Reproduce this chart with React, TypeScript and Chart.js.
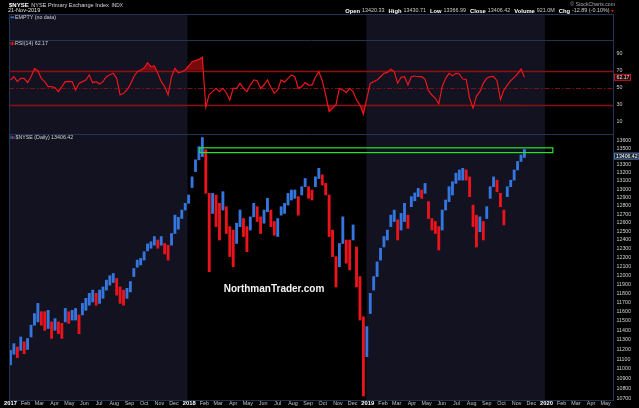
import React, { useEffect, useRef } from "react";
import { Chart, registerables } from "chart.js";

Chart.register(...registerables);

// ---------- data ----------
const axisStart = "2017-01-01";
const axisEnd = "2020-05-21";
const firstWeek = "2017-01-04"; // weekly bars (mid-week dates)

const priceHigh = [
  11190, 11260, 11225, 11330, 11280, 11315, 11455, 11580, 11690, 11600,
  11600, 11615, 11490, 11525, 11490, 11475, 11635, 11600, 11615, 11635,
  11565, 11690, 11745, 11800, 11835, 11800, 11835, 11870, 11945, 11995,
  12020, 11965, 11870, 11835, 11855, 11930, 12075, 12170, 12190, 12265,
  12355, 12380, 12440, 12400, 12440, 12360, 12340, 12475, 12690, 12665,
  12750, 12830, 12930, 13150, 13360, 13525, 13640, 13485, 12950, 12950,
  12930, 12830, 12970, 12790, 12555, 12515, 12595, 12750, 12650, 12555,
  12670, 12830, 12790, 12670, 12750, 12890, 12750, 12615, 12650, 12790,
  12830, 12950, 12990, 12990, 12910, 13030, 13130, 13030, 12990, 13150,
  13255, 13175, 13070, 12930, 12515, 12210, 12360, 12670, 12400, 12400,
  12575, 12320, 11985, 11545, 11440, 11800, 11985, 12150, 12305, 12440,
  12515, 12690, 12750, 12635, 12710, 12830, 12690, 12910, 12955, 13010,
  12990, 13070, 12850, 12650, 12615, 12555, 12750, 12870, 13030, 13090,
  13195, 13235, 13255, 13235, 13150, 12810, 12690, 12670, 12615, 12790,
  13030, 13150, 13110, 12950, 12750, 13030, 13110, 13235, 13340, 13420,
  13490,
];

const priceLow = [
  11040, 11150, 11115, 11190, 11155, 11200, 11330, 11455, 11490, 11455,
  11400, 11420, 11315, 11400, 11365, 11315, 11490, 11475, 11510, 11510,
  11365, 11565, 11615, 11670, 11705, 11670, 11690, 11745, 11835, 11890,
  11920, 11780, 11690, 11670, 11745, 11815, 11985, 12090, 12115, 12170,
  12275, 12305, 12340, 12305, 12340, 12240, 12170, 12340, 12475, 12525,
  12650, 12750, 12830, 13020, 13215, 13360, 13400, 12950, 12040, 12710,
  12555, 12400, 12750, 12475, 12210, 12095, 12360, 12555, 12440, 12265,
  12515, 12670, 12615, 12475, 12595, 12730, 12555, 12455, 12440, 12690,
  12710, 12810, 12870, 12890, 12690, 12930, 13030, 12890, 12870, 13030,
  13130, 13050, 12930, 12440, 12210, 11870, 12095, 12360, 12135, 12060,
  12400, 11870, 11510, 10725, 11125, 11580, 11835, 11985, 12170, 12320,
  12400, 12555, 12615, 12400, 12515, 12615, 12535, 12790, 12860, 12910,
  12890, 12950, 12650, 12515, 12475, 12285, 12515, 12750, 12850, 12930,
  13070, 13110, 13110, 13110, 12910, 12555, 12320, 12495, 12400, 12650,
  12890, 13030, 12970, 12790, 12575, 12910, 13030, 13110, 13235, 13340,
  13390,
];

const rsi14 = [
  59, 62.9, 57.1, 61, 61, 55.9, 62.9, 72.4, 70, 61,
  57.1, 51.2, 51.2, 50, 45.3, 51.2, 57.1, 57.5, 57.1, 47.3,
  55.1, 57.1, 59, 64.9, 55.9, 57.1, 54.3, 57.1, 62.9, 65.3,
  66.9, 61, 41.4, 43.3, 47.3, 53.9, 62.9, 68.8, 70.8, 73.1,
  79.4, 74.7, 75.5, 66.9, 57.1, 51.2, 41.4, 62.9, 72.7, 67.6,
  68.8, 70.8, 75.5, 80.6, 81.8, 83.3, 85.7, 27, 42, 45.3,
  49.2, 45.3, 49.2, 44.1, 35.5, 49.2, 49.2, 55.1, 49.2, 45.3,
  53.1, 59, 58.2, 49.2, 53.1, 59, 50.4, 43.3, 47.3, 59,
  56.3, 61, 64.9, 62.9, 49.2, 51.2, 55.9, 53.1, 53.1, 62.2,
  68.8, 58.2, 41.4, 22, 25.7, 30, 49.2, 47.3, 44.1, 49.2,
  45.3, 35.5, 29.6, 19, 37.5, 55.1, 57.1, 59, 62.9, 66.9,
  68, 71.6, 68.8, 55.1, 62.2, 62.9, 53.1, 62.9, 63.7, 62.9,
  62.9, 59.8, 46.5, 41.4, 37.5, 31, 51.2, 61, 66.9, 64.1,
  66.9, 66.1, 60.2, 59.8, 37.5, 26, 40.2, 45.3, 55.1, 61,
  62.9, 62.9, 58.2, 36, 47, 53.1, 58.2, 62.2, 66.1, 72,
  62.17,
];

const rsiTicks = [10, 30, 50, 70, 90];
const rsiBands = [30, 70];
const rsiMid = 50;
const priceTicks = [
  10700, 10800, 10900, 11000, 11100, 11200, 11300, 11400, 11500, 11600,
  11700, 11800, 11900, 12000, 12100, 12200, 12300, 12400, 12500, 12600,
  12700, 12800, 12900, 13000, 13100, 13200, 13300, 13400, 13500, 13600,
];
const monthLabels = ["Jan", "Feb", "Mar", "Apr", "May", "Jun", "Jul", "Aug", "Sep", "Oct", "Nov", "Dec"];
const tickYears = [2017, 2018, 2019, 2020];
const shadedYears = [2017, 2019];
const resistance = { from: "2018-01-26", to: "2020-01-17", low: 13450, high: 13510 };
const lastClose = 13406.42;
const lastRsi = 62.17;

const symbol = "$NYSE";
const title = "NYSE Primary Exchange Index";
const exchange = "INDX";
const asOf = "21-Nov-2019";
const copyright = "\u00a9 StockCharts.com";
const quoteLabels = ["Open", "High", "Low", "Close", "Volume", "Chg"];
const quoteValues = ["13420.33", "13430.71", "13366.99", "13406.42", "921.0M", "-12.89 (-0.10%)"];
const watermark = "NorthmanTrader.com";

// ---------- helpers ----------
const FONT = '"Liberation Sans", Arial, sans-serif';
const BLUE = "rgb(52,118,222)";
const RED = "rgb(235,20,28)";
const SHADE = "rgb(18,18,33)";
const BORDER = "rgb(30,54,84)";
const DAY = 86400000;
const origin = Date.parse(axisStart);
const dayOf = (iso: string) => (Date.parse(iso) - origin) / DAY;
const dayOfYMD = (y: number, m: number, d: number) => (Date.UTC(y, m, d) - origin) / DAY;

const weekDays = priceHigh.map((_, i) => dayOf(firstWeek) + 7 * i);

const monthTicks: { value: number; label: string; year: boolean }[] = [];
for (const y of tickYears) {
  for (let m = 0; m < 12; m++) {
    const d = dayOfYMD(y, m, 1);
    if (d <= dayOf(axisEnd)) monthTicks.push({ value: d, label: m === 0 ? String(y) : monthLabels[m], year: m === 0 });
  }
}

const barColors = priceHigh.map((h, i) => {
  if (i === 0) return BLUE;
  const mid = (h + priceLow[i]) / 2;
  const prev = (priceHigh[i - 1] + priceLow[i - 1]) / 2;
  return mid >= prev ? BLUE : RED;
});

function hline(ctx: CanvasRenderingContext2D, x0: number, x1: number, y: number) {
  ctx.beginPath();
  ctx.moveTo(x0, y);
  ctx.lineTo(x1, y);
  ctx.stroke();
}

const decor = {
  id: "decor",
  beforeDraw(chart: any) {
    const { ctx, chartArea: a, scales } = chart;
    ctx.save();
    ctx.fillStyle = "#000";
    ctx.fillRect(0, 0, chart.width, chart.height);
    ctx.fillStyle = SHADE;
    for (const y of shadedYears) {
      const x0 = Math.max(a.left, scales.x.getPixelForValue(dayOfYMD(y, 0, 1)));
      const x1 = Math.min(a.right, scales.x.getPixelForValue(dayOfYMD(y + 1, 0, 1)));
      ctx.fillRect(x0, a.top, x1 - x0, a.bottom - a.top);
    }
    const yr = scales.yRsi;
    ctx.strokeStyle = "rgb(135,18,20)";
    ctx.lineWidth = 1.6;
    for (const v of rsiBands) hline(ctx, a.left, a.right, Math.round(yr.getPixelForValue(v)) + 0.5);
    ctx.strokeStyle = "rgb(120,18,20)";
    ctx.lineWidth = 1;
    ctx.setLineDash([5, 2, 1.5, 2]);
    hline(ctx, a.left, a.right, Math.round(yr.getPixelForValue(rsiMid)) + 0.5);
    ctx.restore();
  },
  afterDatasetsDraw(chart: any) {
    const { ctx, scales } = chart;
    const x = scales.x, yp = scales.yPrice;
    ctx.save();
    // resistance box
    const bx0 = x.getPixelForValue(dayOf(resistance.from));
    const bx1 = x.getPixelForValue(dayOf(resistance.to));
    const by0 = yp.getPixelForValue(resistance.high);
    const by1 = yp.getPixelForValue(resistance.low);
    ctx.strokeStyle = "rgb(40,230,40)";
    ctx.lineWidth = 1.2;
    ctx.strokeRect(bx0, by0, bx1 - bx0, by1 - by0);
    // watermark
    ctx.fillStyle = "#f4f4f4";
    ctx.font = `bold 10px ${FONT}`;
    ctx.textAlign = "center";
    ctx.textBaseline = "middle";
    ctx.fillText(watermark, 274, 289);
    ctx.restore();
  },
  afterDraw(chart: any) {
    const { ctx, chartArea: a, scales } = chart;
    const yr = scales.yRsi, yp = scales.yPrice, x = scales.x;
    ctx.save();
    // panel borders
    ctx.strokeStyle = BORDER;
    ctx.lineWidth = 1;
    ctx.strokeRect(a.left + 0.5, a.top + 0.5, a.right - a.left - 1, a.bottom - a.top);
    hline(ctx, a.left, a.right, Math.round(yr.top) + 0.5);
    hline(ctx, a.left, a.right, Math.round(yp.top) + 0.5);

    // x axis month / year labels (positions from the x scale)
    ctx.textBaseline = "middle";
    ctx.textAlign = "center";
    for (const t of monthTicks) {
      const px = x.getPixelForValue(t.value) + 1.5;
      ctx.font = t.year ? `bold 5.8px ${FONT}` : `5.4px ${FONT}`;
      ctx.fillStyle = t.year ? "#ffffff" : "#c4c4c4";
      ctx.fillText(t.label, px, a.bottom + 3.8);
    }

    // header
    ctx.textAlign = "left";
    ctx.fillStyle = "#fff";
    ctx.font = `bold 6px ${FONT}`;
    ctx.fillText(symbol, 9, 5.5);
    let cx = 9 + ctx.measureText(symbol).width + 2.5;
    ctx.font = `5.6px ${FONT}`;
    ctx.fillStyle = "#d8d8d8";
    ctx.fillText(title, cx, 5.5);
    cx += ctx.measureText(title).width + 2.5;
    ctx.font = `4.8px ${FONT}`;
    ctx.fillText(exchange, cx, 5.8);
    ctx.font = `5.6px ${FONT}`;
    ctx.fillStyle = "#e0e0e0";
    ctx.fillText(asOf, 8, 10.6);

    ctx.textAlign = "right";
    ctx.fillStyle = "#a8a8a8";
    ctx.font = `5.2px ${FONT}`;
    ctx.fillText(copyright, 615, 5);

    // quote line, right aligned
    const parts: { t: string; bold: boolean; gap: number }[] = [];
    quoteLabels.forEach((l, i) => {
      parts.push({ t: l, bold: true, gap: 2 });
      parts.push({ t: quoteValues[i], bold: false, gap: 4 });
    });
    let total = 0;
    for (const p of parts) {
      ctx.font = p.bold ? `bold 5.8px ${FONT}` : `5.4px ${FONT}`;
      total += ctx.measureText(p.t).width + p.gap;
    }
    total -= 4;
    ctx.textAlign = "left";
    let qx = 609.5 - total;
    for (const p of parts) {
      ctx.font = p.bold ? `bold 5.8px ${FONT}` : `5.4px ${FONT}`;
      ctx.fillStyle = p.bold ? "#ffffff" : "#cfcfcf";
      ctx.fillText(p.t, qx, 11);
      qx += ctx.measureText(p.t).width + p.gap;
    }
    ctx.fillStyle = "rgb(230,20,30)";
    ctx.beginPath();
    ctx.moveTo(611, 10);
    ctx.lineTo(614, 10);
    ctx.lineTo(612.5, 12.2);
    ctx.closePath();
    ctx.fill();

    // panel legends
    ctx.font = `5.3px ${FONT}`;
    ctx.fillStyle = BLUE;
    ctx.fillRect(10.5, a.top + 2.5, 3.5, 1.6);
    ctx.fillStyle = "#d0d0d0";
    ctx.fillText("EMPTY (no data)", 15, a.top + 3.4);

    ctx.fillStyle = RED;
    ctx.fillRect(10.5, yr.top + 2, 1, 3);
    ctx.fillRect(12, yr.top + 1.5, 1, 3.5);
    ctx.fillRect(13.5, yr.top + 2.5, 1, 2.5);
    ctx.fillStyle = "#d0d0d0";
    ctx.fillText(`RSI(14) ${lastRsi.toFixed(2)}`, 15, yr.top + 3.5);

    ctx.fillStyle = BLUE;
    ctx.fillRect(10.5, yp.top + 1.5, 1, 3.5);
    ctx.fillStyle = RED;
    ctx.fillRect(12, yp.top + 2, 1, 3);
    ctx.fillStyle = BLUE;
    ctx.fillRect(13.5, yp.top + 2.5, 1, 2.5);
    ctx.fillStyle = "#d0d0d0";
    ctx.fillText(`${symbol} (Daily) ${lastClose.toFixed(2)}`, 15.5, yp.top + 3.6);

    // last value boxes on the right axis
    ctx.font = `5.2px ${FONT}`;
    const ry = yr.getPixelForValue(lastRsi);
    ctx.fillStyle = "rgb(40,6,8)";
    ctx.fillRect(a.right, ry - 3, 16.5, 6);
    ctx.strokeStyle = "rgb(200,25,30)";
    ctx.strokeRect(a.right + 0.5, ry - 3, 16, 6);
    ctx.fillStyle = "#e8e8e8";
    ctx.fillText(lastRsi.toFixed(2), a.right + 2.5, ry + 0.3);

    const py = yp.getPixelForValue(lastClose);
    ctx.fillStyle = "rgb(28,36,52)";
    ctx.fillRect(a.right, py - 3, 25, 6);
    ctx.strokeStyle = "rgb(90,125,170)";
    ctx.strokeRect(a.right + 0.5, py - 3, 24.5, 6);
    ctx.fillStyle = "#ffffff";
    ctx.fillText(lastClose.toFixed(2), a.right + 2, py + 0.3);
    ctx.restore();
  },
};

export default function App() {
  const ref = useRef<HTMLCanvasElement>(null);
  useEffect(() => {
    if (!ref.current) return;
    const tickFont = { size: 5.3, family: FONT };
    const noGrid = { display: false, drawTicks: false, tickLength: 0 };
    const chart = new Chart(ref.current, {
      type: "bar",
      data: {
        datasets: [
          {
            type: "line",
            label: "RSI(14)",
            xAxisID: "x",
            yAxisID: "yRsi",
            data: weekDays.map((d, i) => ({ x: d, y: rsi14[i] })),
            borderColor: "rgb(236,22,28)",
            borderWidth: 1.2,
            pointRadius: 0,
            tension: 0,
            fill: { target: { value: 70 }, above: "rgba(150,12,16,0.8)", below: "rgba(0,0,0,0)" },
          } as any,
          {
            type: "line",
            label: "RSI low fill",
            xAxisID: "x",
            yAxisID: "yRsi",
            data: weekDays.map((d, i) => ({ x: d, y: rsi14[i] })),
            borderWidth: 0,
            borderColor: "rgba(0,0,0,0)",
            pointRadius: 0,
            tension: 0,
            fill: { target: { value: 30 }, above: "rgba(0,0,0,0)", below: "rgba(150,12,16,0.8)" },
          } as any,
          {
            type: "bar",
            label: "$NYSE",
            xAxisID: "x",
            yAxisID: "yPrice",
            data: weekDays.map((d, i) => ({ x: d, y: [priceLow[i], priceHigh[i]] })),
            backgroundColor: barColors,
            borderWidth: 0,
            barThickness: 2.2,
            grouped: false,
          } as any,
        ],
      },
      options: {
        animation: false,
        responsive: false,
        maintainAspectRatio: false,
        layout: { padding: { top: 14, left: 9, right: 0, bottom: 0 } },
        plugins: { legend: { display: false }, tooltip: { enabled: false } },
        scales: {
          x: {
            type: "linear",
            position: "bottom",
            min: 0,
            max: dayOf(axisEnd),
            offset: false,
            grid: noGrid,
            border: { display: false },
            ticks: { display: false },
            afterFit: (s: any) => {
              s.height = 8;
            },
          },
          yEmpty: {
            type: "linear",
            position: "right",
            stack: "panes",
            stackWeight: 26,
            min: 0,
            max: 1,
            grid: noGrid,
            border: { display: false },
            ticks: { display: false },
            afterFit: (s: any) => {
              s.width = 25;
            },
          },
          yRsi: {
            type: "linear",
            position: "right",
            stack: "panes",
            stackWeight: 94,
            min: -4.5,
            max: 106.1,
            grid: noGrid,
            border: { display: false },
            afterBuildTicks: (s: any) => {
              s.ticks = rsiTicks.map((v) => ({ value: v }));
            },
            afterFit: (s: any) => {
              s.width = 25;
            },
            ticks: { autoSkip: false, font: tickFont, color: "#cfcfcf", padding: 2.5, callback: (v: any) => String(v) },
          },
          yPrice: {
            type: "logarithmic",
            position: "right",
            stack: "panes",
            stackWeight: 266,
            min: 10685,
            max: 13685,
            grid: noGrid,
            border: { display: false },
            afterBuildTicks: (s: any) => {
              s.ticks = priceTicks.map((v) => ({ value: v }));
            },
            afterFit: (s: any) => {
              s.width = 25;
            },
            ticks: { autoSkip: false, font: tickFont, color: "#cfcfcf", padding: 2.5, callback: (v: any) => String(v) },
          },
        } as any,
      },
      plugins: [decor],
    });
    return () => chart.destroy();
  }, []);

  return (
    <div style={{ position: "absolute", left: 0, top: 0, width: 639, height: 408, background: "#000" }}>
      <canvas ref={ref} width={639} height={408} style={{ display: "block", width: 639, height: 408 }} />
    </div>
  );
}
